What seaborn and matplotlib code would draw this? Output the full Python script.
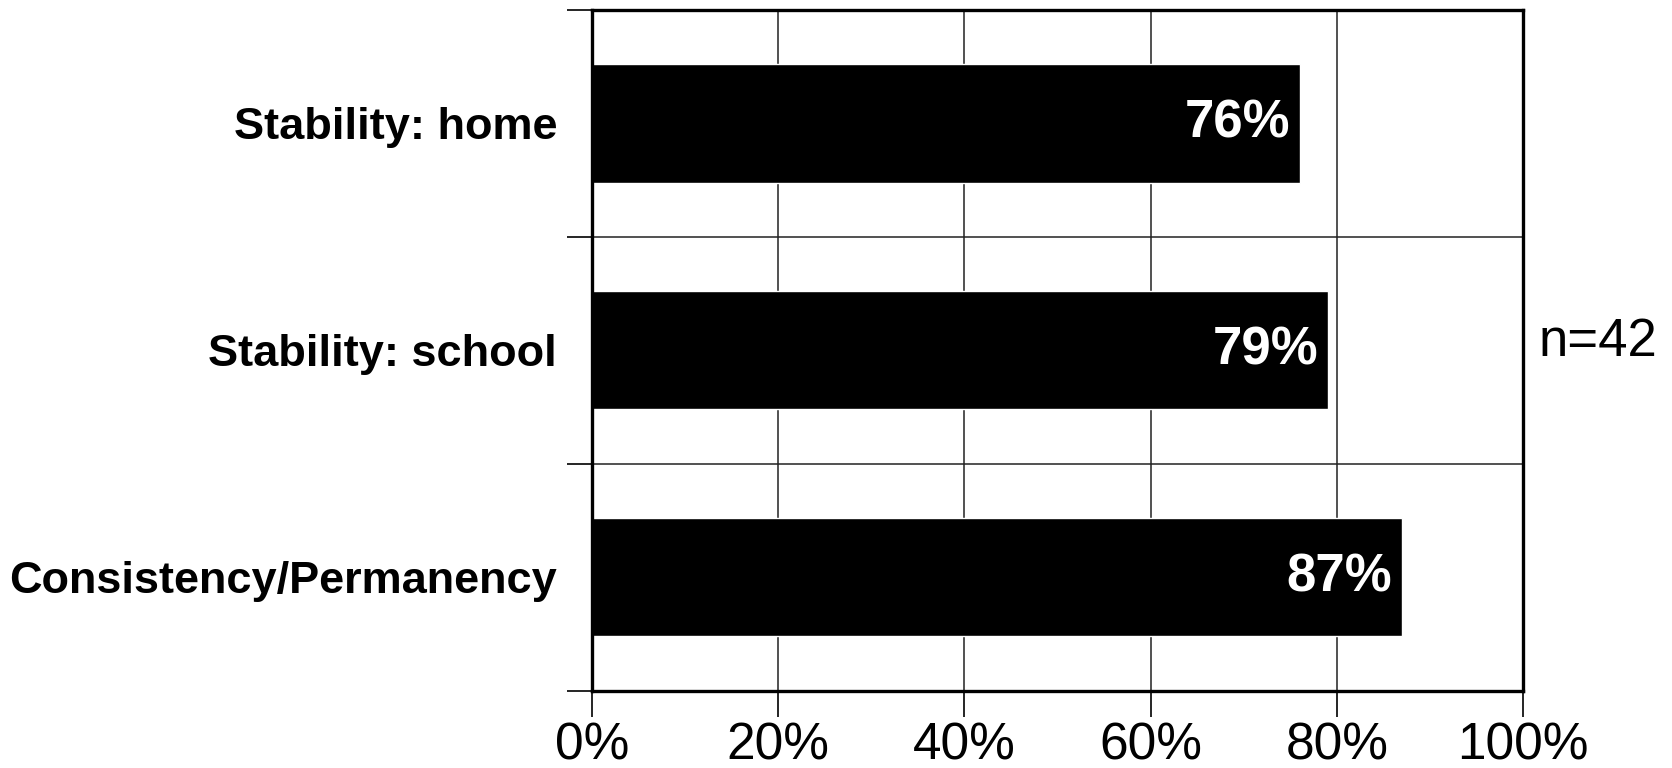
import matplotlib
matplotlib.use("Agg")
import matplotlib.pyplot as plt
import seaborn as sns
import pandas as pd
from matplotlib.ticker import FixedLocator

categories = ["Stability: home", "Stability: school", "Consistency/Permanency"]
values = [76, 79, 87]
x_ticks = [0, 20, 40, 60, 80, 100]
sample_note = "n=42"

sns.set_theme(style="white")
plt.rcParams["font.family"] = ["Liberation Sans", "DejaVu Sans"]
plt.rcParams["text.color"] = "black"
plt.rcParams["xtick.color"] = "black"
plt.rcParams["ytick.color"] = "black"

df = pd.DataFrame({"category": categories, "value": values})

fig = plt.figure(figsize=(16.72, 7.68), dpi=100)
ax = fig.add_axes([0.354, 0.1003, 0.557, 0.8867])

sns.barplot(data=df, x="value", y="category", orient="h", color="black",
            saturation=1, width=0.52, ax=ax)

ax.set_xlim(0, 100)
ax.set_ylim(2.5, -0.5)
ax.set_xlabel("")
ax.set_ylabel("")

# x axis: percentage ticks with vertical grid
ax.xaxis.set_major_locator(FixedLocator(x_ticks))
ax.set_xticklabels([f"{t}%" for t in x_ticks], fontsize=37, color="black")
ax.tick_params(axis="x", which="major", direction="out", length=19, width=1.2,
               color="black", pad=3, bottom=True)

# y axis: labels centred on bars, ticks and grid at category boundaries
ax.set_yticks(range(len(categories)))
ax.set_yticklabels(categories, fontsize=32.5, fontweight="bold", color="black")
ax.yaxis.set_minor_locator(FixedLocator([-0.5, 0.5, 1.5, 2.5]))
ax.tick_params(axis="y", which="major", length=0, pad=25)
ax.tick_params(axis="y", which="minor", direction="out", length=18, width=1.2,
               color="black", left=True)

ax.grid(False)
ax.xaxis.grid(True, which="major", color="#222222", linewidth=1.1)
ax.yaxis.grid(True, which="minor", color="#222222", linewidth=1.1)
ax.set_axisbelow(True)

for side in ["left", "right", "top", "bottom"]:
    ax.spines[side].set_visible(True)
    ax.spines[side].set_color("black")
    ax.spines[side].set_linewidth(2.4)

for i, v in enumerate(values):
    ax.annotate(f"{v}%", xy=(v, i), xytext=(-7, 0), textcoords="offset points",
                ha="right", va="center", color="white", fontsize=38,
                fontweight="bold")

ax.text(1.016, 0.513, sample_note, transform=ax.transAxes, ha="left",
        va="center", fontsize=38, color="black")

fig.savefig("out.png", dpi=100, facecolor="white")
